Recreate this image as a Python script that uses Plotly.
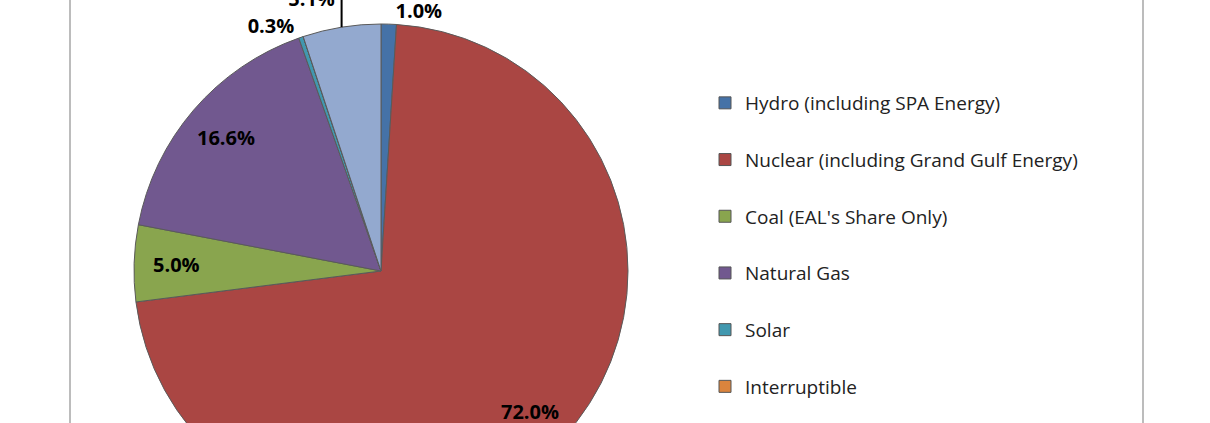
import math
import plotly.graph_objects as go

categories = ["Hydro (including SPA Energy)", "Nuclear (including Grand Gulf Energy)",
              "Coal (EAL's Share Only)", "Natural Gas", "Solar", "Interruptible", "Purchases"]
shares = [1.0, 72.0, 5.0, 16.6, 0.3, 0.0, 5.1]
colors = ["#4572A7", "#AA4643", "#89A54E", "#71588F", "#4198AF", "#DB843D", "#93A9CF"]
label_pos = ["outside", "none", "none", "none", "outside", "none", "outside"]
inside_labels = [False, True, True, True, False, False, False]

W, H = 1210, 560
cx, cy, R = 381, 271, 247     # pie centre / radius in pixels
label_r = 0.83

fig = go.Figure()
fig.add_trace(go.Pie(
    labels=categories, values=shares, sort=False, direction="clockwise", rotation=0,
    marker=dict(colors=colors, line=dict(color="#5a5a5a", width=1)),
    texttemplate="%{percent:.1%}", textposition=label_pos,
    textfont=dict(family="Open Sans", size=20, color="black", weight="bold"),
    showlegend=False, hoverinfo="label+percent", automargin=False,
    domain=dict(x=[(cx - R) / W, (cx + R) / W],
                y=[(H - cy - R) / H, (H - cy + R) / H]),
))

# inside data labels, positioned from the cumulative shares
total = sum(shares)
cum = 0.0
for v, show in zip(shares, inside_labels):
    mid = 2 * math.pi * (cum + v / 2) / total
    cum += v
    if not show:
        continue
    px = cx + label_r * R * math.sin(mid)
    py = cy - label_r * R * math.cos(mid)
    fig.add_annotation(x=px / W, y=1 - py / H, xref="paper", yref="paper",
                       xanchor="center", yanchor="middle",
                       text=f"{v / total * 100:.1f}%", showarrow=False,
                       font=dict(family="Open Sans", size=20, color="black", weight="bold"))

for i, (cat, col) in enumerate(zip(categories, colors)):
    fig.add_trace(go.Scatter(
        x=[None], y=[None], mode="markers", name=cat, legendgroup=f"g{i}",
        marker=dict(symbol="square", size=12, color=col, line=dict(color="#555555", width=1)),
    ))

fig.add_shape(type="rect", xref="paper", yref="paper",
              x0=70 / W, x1=1143 / W, y0=-0.2, y1=1.2,
              line=dict(color="#a6a6a6", width=1.5), fillcolor="rgba(0,0,0,0)")

fig.update_layout(
    width=W, height=H, margin=dict(l=0, r=0, t=0, b=0, autoexpand=False),
    paper_bgcolor="white", plot_bgcolor="white",
    xaxis=dict(visible=False), yaxis=dict(visible=False),
    showlegend=True,
    legend=dict(x=705 / W, xanchor="left", y=1 - 84 / H, yanchor="top",
                font=dict(family="Open Sans", size=19, color="#222222"),
                tracegroupgap=29, bgcolor="rgba(0,0,0,0)"),
)

fig.write_html("out.html", config={"displayModeBar": False},
               post_script="document.body.style.margin='0';document.body.style.overflow='hidden';")
